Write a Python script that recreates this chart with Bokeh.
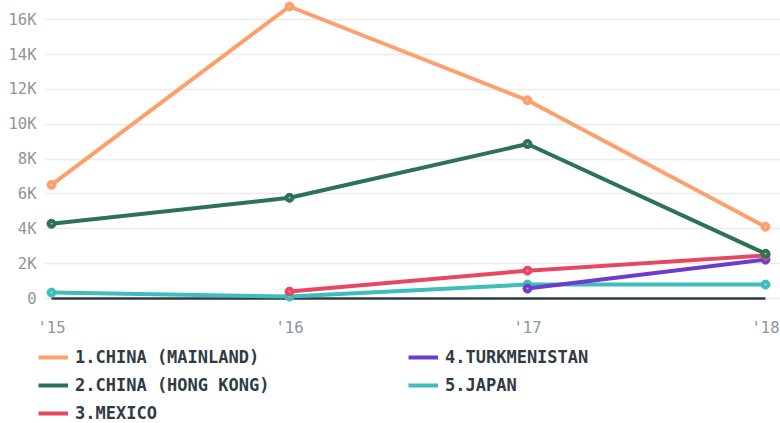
import math
from bokeh.plotting import figure
from bokeh.layouts import column, row
from bokeh.models import (Range1d, FixedTicker, Legend, LegendItem)
from bokeh.embed import file_html
from bokeh.resources import INLINE

NaN = float("nan")

years = [2015, 2016, 2017, 2018]
x_labels = ["'15", "'16", "'17", "'18"]

series_names = ["1.CHINA (MAINLAND)", "2.CHINA (HONG KONG)", "3.MEXICO",
                "4.TURKMENISTAN", "5.JAPAN"]
china_mainland = [6520, 16760, 11380, 4120]
china_hong_kong = [4290, 5780, 8870, 2570]
mexico = [NaN, 400, 1600, 2470]
turkmenistan = [NaN, NaN, 570, 2230]
japan = [340, 110, 800, 800]
series_values = [china_mainland, china_hong_kong, mexico, turkmenistan, japan]
series_colors = ["#fda06c", "#2b7257", "#e8485f", "#6c3ccc", "#3dbdbc"]

y_ticks = [0, 2000, 4000, 6000, 8000, 10000, 12000, 14000, 16000]
y_labels = ["0", "2K", "4K", "6K", "8K", "10K", "12K", "14K", "16K"]

FONT = "DejaVu Sans Mono"
GREY = "#8c969c"
DARK = "#2f3b44"

main = figure(width=780, height=339, output_backend="svg",
              toolbar_location=None, min_border_left=44, min_border_right=0,
              min_border_top=0, min_border_bottom=34,
              x_range=Range1d(2014.9706, 2018.063),
              y_range=Range1d(-343, 17105))
main.outline_line_color = None
main.background_fill_color = "white"
main.border_fill_color = "white"

main.xgrid.grid_line_color = None
main.ygrid.grid_line_color = "#ececec"
main.ygrid.grid_line_width = 1.5
main.ygrid.ticker = FixedTicker(ticks=y_ticks)

main.yaxis.ticker = FixedTicker(ticks=y_ticks)
main.yaxis.major_label_overrides = dict(zip(y_ticks, y_labels))
main.xaxis.ticker = FixedTicker(ticks=years)
main.xaxis.major_label_overrides = dict(zip(years, x_labels))
for ax in (main.xaxis[0], main.yaxis[0]):
    ax.axis_line_color = None
    ax.major_tick_line_color = None
    ax.minor_tick_line_color = None
    ax.major_tick_out = 0
    ax.major_tick_in = 0
    ax.minor_tick_out = 0
    ax.minor_tick_in = 0
    ax.major_label_text_font = FONT
    ax.major_label_text_font_size = "15.5px"
    ax.major_label_text_color = GREY
main.yaxis.major_label_standoff = 8
main.xaxis.major_label_standoff = 14

# zero baseline
main.line(x=[years[0], years[-1]], y=[0, 0], line_color=DARK, line_width=2.5)

for name, vals, col in reversed(list(zip(series_names, series_values, series_colors))):
    main.line(x=years, y=vals, line_color=col, line_width=4)
    xs = [x for x, v in zip(years, vals) if not math.isnan(v)]
    ys = [v for v in vals if not math.isnan(v)]
    main.scatter(x=xs, y=ys, size=9, fill_color=col, line_color=col)
    main.scatter(x=xs, y=ys, size=2, fill_color="white", line_color=None, fill_alpha=0.6)

# legend-only figure below (its lines lie outside its ranges)
leg = figure(width=780, height=84, output_backend="svg", toolbar_location=None,
             min_border=0, x_axis_type=None, y_axis_type=None,
             x_range=Range1d(0, 1), y_range=Range1d(0, 1))
leg.outline_line_color = None
leg.xgrid.grid_line_color = None
leg.ygrid.grid_line_color = None
items = []
for name, vals, col in zip(series_names, series_values, series_colors):
    r = leg.line(x=years, y=vals, line_color=col, line_width=4)
    items.append(LegendItem(label=name, renderers=[r]))

legend = Legend(items=items, orientation="vertical", nrows=3,
                location=(38, 0), margin=0, padding=0,
                glyph_width=30, glyph_height=20, label_standoff=7,
                label_width=325, label_height=20, spacing=8,
                label_text_font=FONT, label_text_font_size="17px",
                label_text_font_style="bold", label_text_color=DARK,
                border_line_color=None, background_fill_alpha=0)
leg.add_layout(legend, "center")

p = column(main, row(leg, spacing=0), spacing=0)
open("out.html", "w").write(file_html(p, INLINE))
